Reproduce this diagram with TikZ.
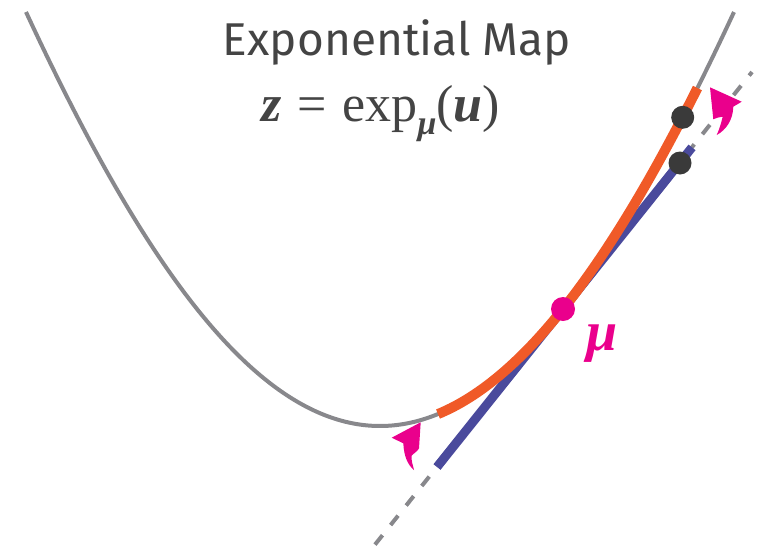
\documentclass[tikz,border=0pt]{standalone}
\usepackage{fontspec}
\setmainfont{Liberation Serif}
\newfontfamily\titlefont{Fira Sans}
\definecolor{curvegray}{RGB}{136,136,140}
\definecolor{textgray}{RGB}{68,68,68}
\definecolor{mapor}{RGB}{240,90,40}
\definecolor{tanblue}{RGB}{74,74,156}
\definecolor{accent}{RGB}{234,0,140}
\definecolor{dotdark}{RGB}{58,58,58}
\tikzset{
  manifold/.style={draw=curvegray, line width=4pt},
  expcurve/.style={draw=mapor, line width=10pt, line cap=butt},
  tanline/.style={draw=tanblue, line width=9pt, line cap=butt},
  tanext/.style={draw=curvegray, line width=4pt, dash pattern=on 12pt off 13pt},
  point/.style={circle, fill=dotdark, minimum size=23pt, inner sep=0pt},
  mupoint/.style={circle, fill=accent, minimum size=24pt, inner sep=0pt},
  curvedarrow/.style={fill=accent, draw=none}
}
\begin{document}
\begin{tikzpicture}[x=1pt,y=-1pt]
\useasboundingbox (0,0) rectangle (769,549);
% manifold curve
\draw[manifold] plot[domain=-3.54:3.54, samples=120, smooth] ({380+100*\x},{426-(35.63*\x*\x-0.207*\x*\x*\x*\x)});
% tangent line (dashed extension)
\coordinate (dashlo) at (375,544.6);
\coordinate (dashhi) at (752,72);
\draw[tanext] (dashlo) -- (dashhi);
\coordinate (tanlo) at (437,467);
\coordinate (tanhi) at (692,147.4);
\draw[tanline] (tanlo) -- (tanhi);
% exp map curve
\draw[expcurve] plot[domain=0.58:3.175, samples=80, smooth] ({380+100*\x},{426-(35.63*\x*\x-0.207*\x*\x*\x*\x)});
% points
\node[point] (zpt) at (682.7,117.3) {};
\node[point] (upt) at (680,163) {};
\node[mupoint] (mu) at (563,309) {};
% curved arrows
\fill[curvedarrow] (420.7,422.3) -- (391.7,437.7) -- (403.3,443.3)
  .. controls (404,457) and (408,465) .. (414,470)
  .. controls (413,465) and (411,461) .. (411.7,455.7)
  .. controls (414,453) and (418,451) .. (419,448.3) -- cycle;
\fill[curvedarrow] (710,87.3) -- (741.7,101.7) -- (733.3,106.7)
  .. controls (733,120) and (726,130) .. (716.7,135)
  .. controls (719,130) and (721,124) .. (722.7,116.7)
  .. controls (719,117) and (716,118) .. (713.3,119.3) -- cycle;
% labels
\node[anchor=base, text=textgray, font=\titlefont\fontsize{46}{50}\selectfont, inner sep=0pt] (title) at (397,55) {Exponential Map};
\node[anchor=base, text=textgray, font=\fontsize{52}{56}\selectfont, inner sep=0pt] (eq) at (381,121)
  {{\bfseries\itshape z}\hspace{0.3em}=\hspace{0.3em}exp\raisebox{-0.26em}{\fontsize{34}{36}\selectfont\bfseries\itshape μ}({\bfseries\itshape u})};
\node[anchor=base, text=accent, font=\fontsize{56}{58}\selectfont\bfseries\itshape, inner sep=0pt] (mulab) at (602,350) {μ};
\end{tikzpicture}
\end{document}
